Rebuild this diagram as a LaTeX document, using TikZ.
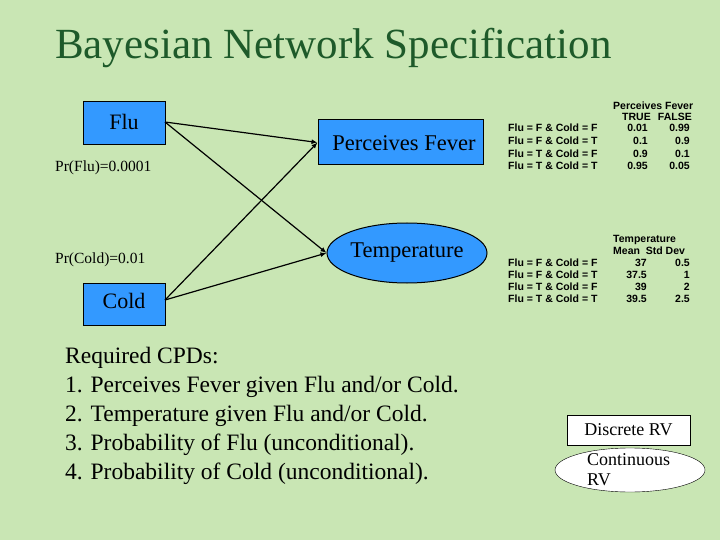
\documentclass[tikz,border=0pt]{standalone}
\usepackage{fontspec}
\setmainfont{Liberation Serif}
\newfontfamily\tabf{Liberation Sans}
\usetikzlibrary{shapes.geometric,arrows.meta}
\definecolor{bg}{HTML}{C9E6B4}
\definecolor{ttl}{HTML}{1E5A2A}
\definecolor{nblue}{HTML}{3399FF}
\begin{document}
\begin{tikzpicture}[x=1pt,y=-1pt,
  bnode/.style={draw=black,line width=1pt,fill=nblue,inner sep=0pt},
  edge/.style={line width=1.2pt,-{Latex[length=6pt,width=5pt]}},
  tl/.style={font=\tabf\bfseries\fontsize{10.5}{11}\selectfont,inner sep=0pt},
  sm/.style={font=\fontsize{15.5}{16}\selectfont,anchor=west,inner sep=0pt}]
\fill[bg] (0,0) rectangle (720,540);
\useasboundingbox (0,0) rectangle (720,540);
\node[font=\fontsize{43}{45}\selectfont,text=ttl,anchor=west,inner sep=0pt] (title) at (55,48) {Bayesian Network Specification};
\node[bnode,minimum width=82pt,minimum height=43pt] (flu) at (124,123.5) {};
\node[font=\fontsize{22}{23}\selectfont,inner sep=0pt] (flut) at (124,122) {Flu};
\node[bnode,minimum width=165pt,minimum height=45pt] (pf) at (400.5,142.5) {};
\node[font=\fontsize{22.5}{23}\selectfont,inner sep=0pt] (pft) at (404,143) {Perceives Fever};
\node[bnode,ellipse,minimum width=160pt,minimum height=60pt] (temp) at (407,253) {};
\node[font=\fontsize{22.5}{23}\selectfont,inner sep=0pt] (tempt) at (407,253) {Temperature};
\node[bnode,minimum width=82pt,minimum height=42pt] (cold) at (124,304) {};
\node[font=\fontsize{22}{23}\selectfont,inner sep=0pt] (coldt) at (124,301) {Cold};
\coordinate (f1) at (165,122);
\coordinate (c1) at (165,300);
\draw[edge] (f1) -- (pf.west);
\draw[edge] (f1) -- (temp.west);
\draw[edge] (c1) -- (pf.west);
\draw[edge] (c1) -- (temp.west);
\node[sm] (prf) at (55,168) {Pr(Flu)=0.0001};
\node[sm] (prc) at (55,260) {Pr(Cold)=0.01};
\node[font=\fontsize{23.5}{29}\selectfont,anchor=north west,align=left,inner sep=0pt] (req) at (65,347) {Required CPDs:\\1. Perceives Fever given Flu and/or Cold.\\2. Temperature given Flu and/or Cold.\\3. Probability of Flu (unconditional).\\4. Probability of Cold (unconditional).};
\node[draw=black,fill=white,minimum width=123pt,minimum height=30pt,font=\fontsize{18}{19}\selectfont] (drv) at (628.5,430) {Discrete RV};
\node[draw=black,fill=white,ellipse,minimum width=150pt,minimum height=44pt] (crv) at (630,470) {};
\node[font=\fontsize{18}{20}\selectfont,align=left,anchor=west,inner sep=0pt] (crvt) at (587,470) {Continuous\\RV};
% tables
\node[tl,anchor=west] (ph) at (613,106) {Perceives Fever};
\node[tl,anchor=east] (pt) at (651,117) {TRUE};
\node[tl,anchor=east] (pfa) at (692,117) {FALSE};
\foreach \y/\l/\a/\b [count=\i] in {128/{Flu = F \& Cold = F}/0.01/0.99,141/{Flu = F \& Cold = T}/0.1/0.9,154/{Flu = T \& Cold = F}/0.9/0.1,166/{Flu = T \& Cold = T}/0.95/0.05}{
  \node[tl,anchor=west] (pl\i) at (508,\y) {\l};
  \node[tl,anchor=east] (pa\i) at (648,\y) {\a};
  \node[tl,anchor=east] (pb\i) at (690,\y) {\b};
}
\node[tl,anchor=west] (th) at (613,240) {Temperature};
\node[tl,anchor=west] (tm) at (613,251) {Mean\ \ Std Dev};
\foreach \y/\l/\a/\b [count=\i] in {263/{Flu = F \& Cold = F}/37/0.5,275/{Flu = F \& Cold = T}/37.5/1,287/{Flu = T \& Cold = F}/39/2,299/{Flu = T \& Cold = T}/39.5/2.5}{
  \node[tl,anchor=west] (tl\i) at (508,\y) {\l};
  \node[tl,anchor=east] (ta\i) at (647,\y) {\a};
  \node[tl,anchor=east] (tb\i) at (690,\y) {\b};
}
\end{tikzpicture}
\end{document}
